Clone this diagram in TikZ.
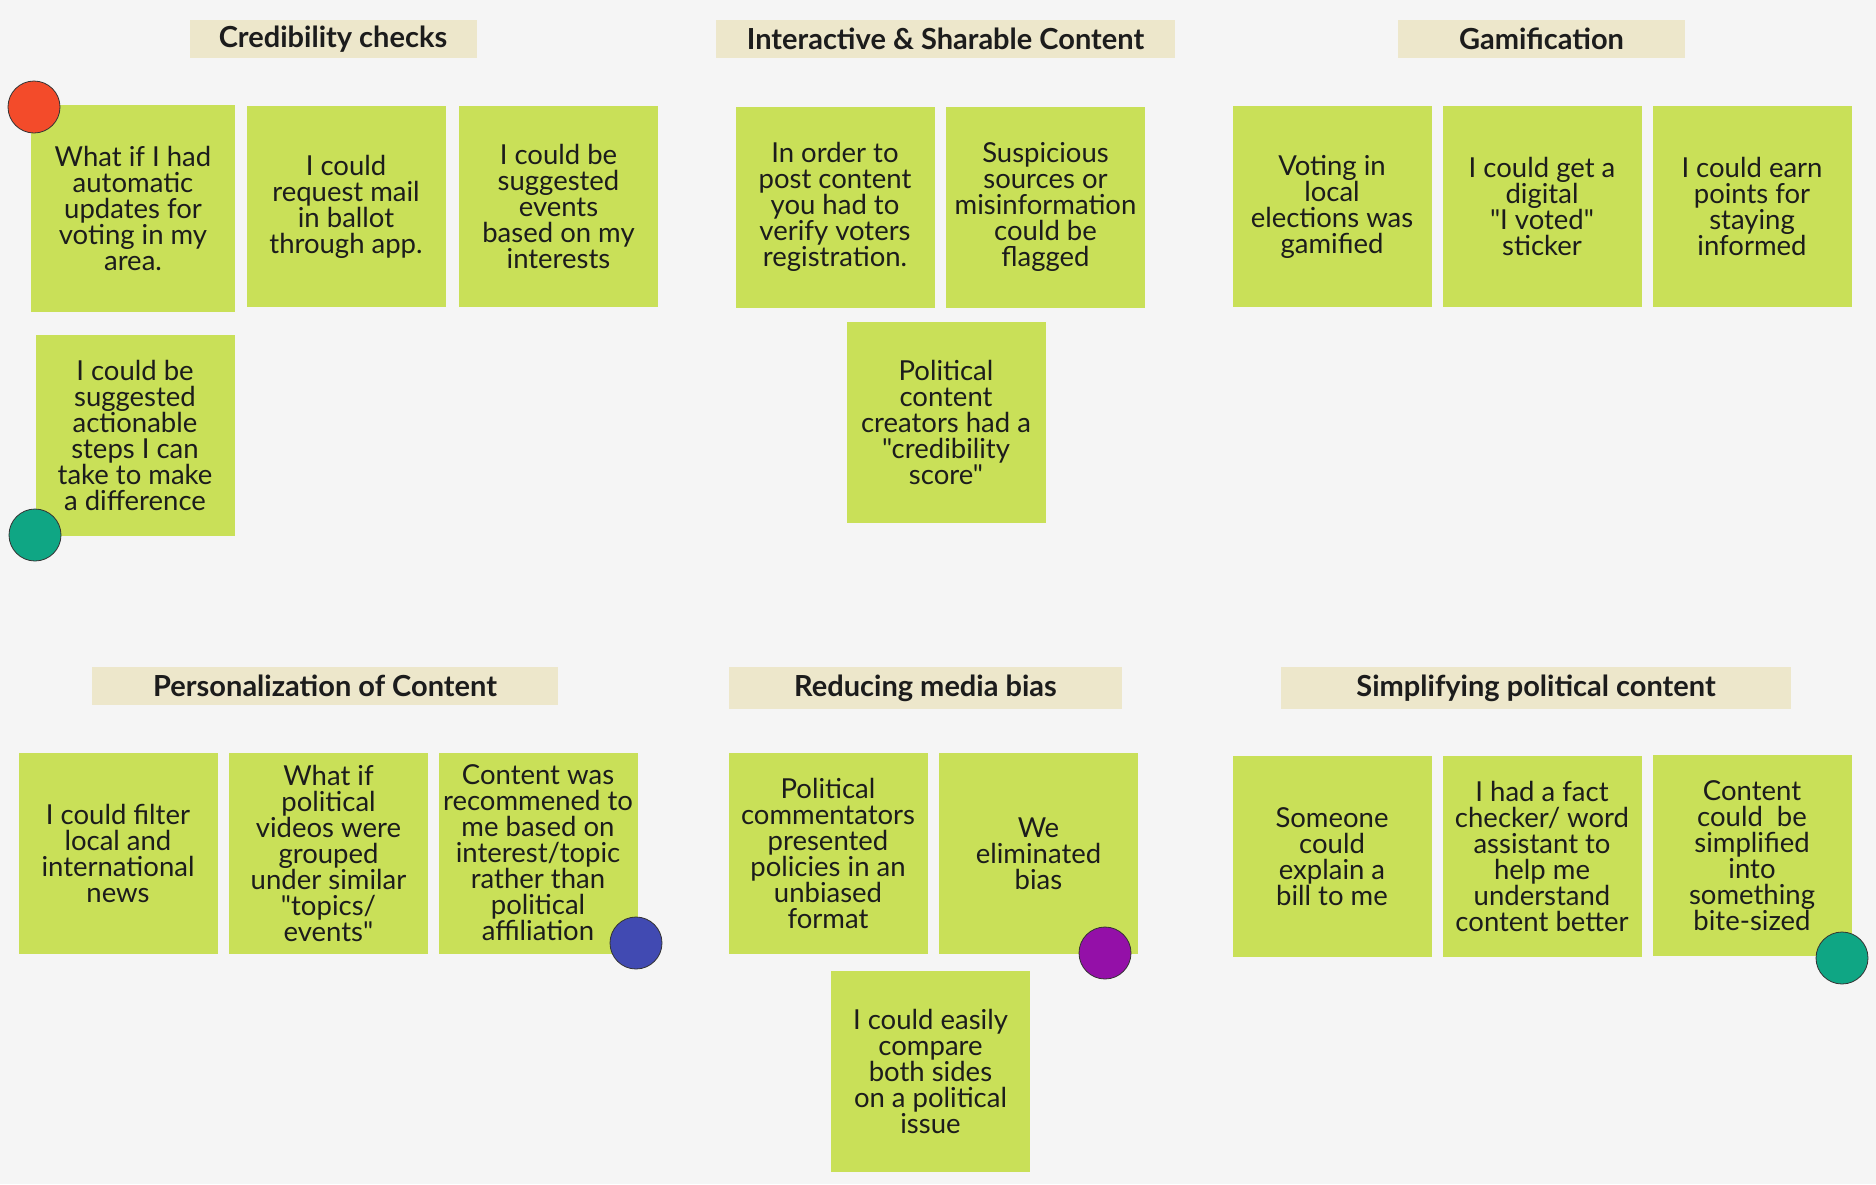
\documentclass[tikz,border=0pt]{standalone}
\usepackage{fontspec}
\setmainfont{Lato}[Ligatures=TeXOff]
\usepackage{xcolor}
\usepackage{tikz}
\usetikzlibrary{shapes}
\definecolor{boardgray}{HTML}{F5F5F5}
\definecolor{notegreen}{HTML}{C9E058}
\definecolor{titlebeige}{HTML}{EDE7CB}
\definecolor{inkdark}{HTML}{1C1C1C}
\definecolor{dotred}{HTML}{F34B2A}
\definecolor{dotteal}{HTML}{0FA684}
\definecolor{dotblue}{HTML}{414AB2}
\definecolor{dotpurple}{HTML}{9410A8}
\tikzstyle{sticky}=[rectangle,fill=notegreen,minimum width=199pt,minimum height=201pt,inner sep=1pt,align=center,text=inkdark,font=\fontsize{27.5}{26}\selectfont]
\tikzstyle{heading}=[rectangle,fill=titlebeige,minimum height=38pt,inner sep=0pt,text=inkdark,font=\fontsize{29}{30}\selectfont\bfseries]
\tikzstyle{sticker}=[circle,draw=black!80,line width=0.8pt,minimum size=52pt,inner sep=0pt]

\begin{document}
\begin{tikzpicture}[x=1pt,y=-1pt]
        \fill [boardgray] (0,0) rectangle (1876,1184);
        \useasboundingbox (0,0) rectangle (1876,1184);

        % headings
        \node at (333,39)    [heading,minimum width=287pt] (hcred) {Credibility checks};
        \node at (945.5,39)  [heading,minimum width=459pt] (hshare) {Interactive \& Sharable Content};
        \node at (1541.5,39) [heading,minimum width=287pt] (hgame) {Gamification};
        \node at (325,686)   [heading,minimum width=466pt] (hpers) {Personalization of Content};
        \node at (925.5,688) [heading,minimum width=393pt,minimum height=42pt] (hbias) {Reducing media bias};
        \node at (1536,688)  [heading,minimum width=510pt,minimum height=42pt] (hsimp) {Simplifying political content};

        % credibility checks
        \node at (133,208.5)  [sticky,minimum width=204pt,minimum height=207pt] (c1) {What if I had\\automatic\\updates for\\voting in my\\area.};
        \node at (346,206.5)  [sticky] (c2) {I could\\request mail\\in ballot\\through app.};
        \node at (558.5,206.5) [sticky] (c3) {I could be\\suggested\\events\\based on my\\interests};
        \node at (135,435)    [sticky] (c4) {I could be\\suggested\\actionable\\steps I can\\take to make\\a difference};

        % interactive and sharable content
        \node at (835,207)    [sticky] (i1) {In order to\\post content\\you had to\\verify voters\\registration.};
        \node at (1045.5,207) [sticky] (i2) {Suspicious\\sources or\\misinformation\\could be\\flagged};
        \node at (946,422.5)  [sticky] (i3) {Political\\content\\creators had a\\"credibility\\score"};

        % gamification
        \node at (1332,206.5) [sticky] (g1) {Voting in\\local\\elections was\\gamified};
        \node at (1542,206.5) [sticky] (g2) {I could get a\\digital\\"I voted"\\sticker};
        \node at (1752,206)   [sticky] (g3) {I could earn\\points for\\staying\\informed};

        % personalization of content
        \node at (118,853.5)  [sticky] (p1) {I could filter\\local and\\international\\news};
        \node at (328.5,853.5) [sticky] (p2) {What if\\political\\videos were\\grouped\\under similar\\"topics/\\events"};
        \node at (538,853)    [sticky] (p3) {Content was\\recommened to\\me based on\\interest/topic\\rather than\\political\\affiliation};

        % reducing media bias
        \node at (828,853.5)  [sticky] (r1) {Political\\commentators\\presented\\policies in an\\unbiased\\format};
        \node at (1038.5,853.5) [sticky] (r2) {We\\eliminated\\bias};
        \node at (930.5,1071) [sticky] (r3) {I could easily\\compare\\both sides\\on a political\\issue};

        % simplifying political content
        \node at (1332,856.5) [sticky] (s1) {Someone\\could\\explain a\\bill to me};
        \node at (1542,856.5) [sticky] (s2) {I had a fact\\checker/ word\\assistant to\\help me\\understand\\content better};
        \node at (1752,855.5) [sticky] (s3) {Content\\could~ be\\simplified\\into\\something\\bite-sized};

        % stickers
        \node at (34,107)   [sticker,fill=dotred]    (dred) {};
        \node at (35,535)   [sticker,fill=dotteal]   (dteal) {};
        \node at (636,943)  [sticker,fill=dotblue]   (dblue) {};
        \node at (1105,953) [sticker,fill=dotpurple] (dpurple) {};
        \node at (1842,958) [sticker,fill=dotteal]   (dtealb) {};
      \end{tikzpicture}
\end{document}
